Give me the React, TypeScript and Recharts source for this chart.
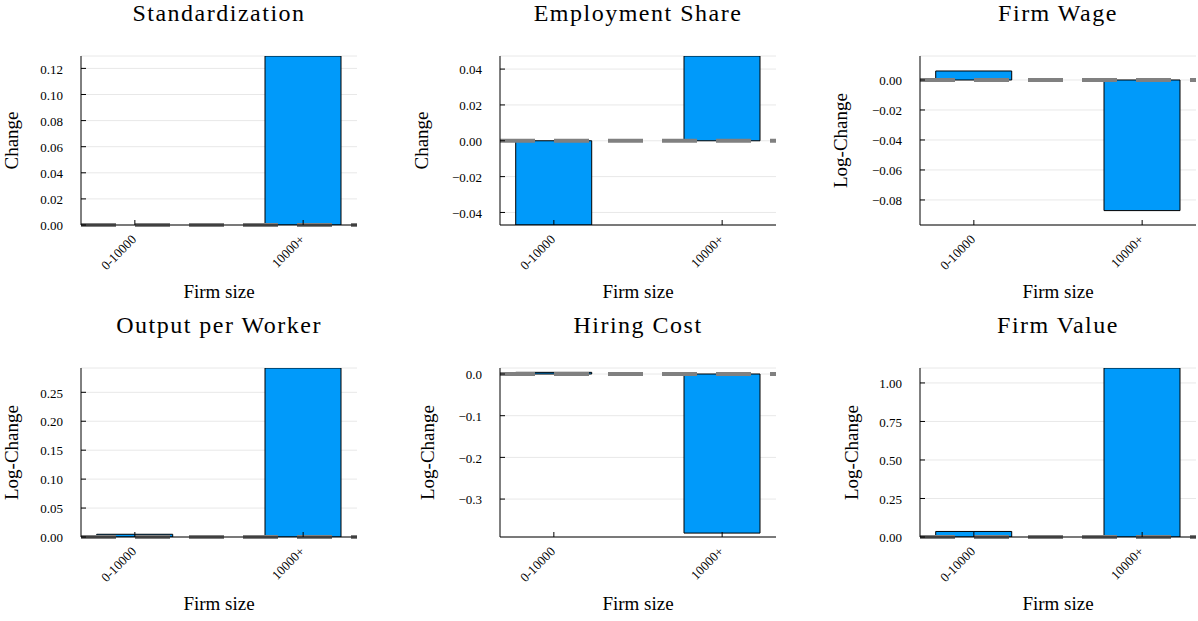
import React from "react";
import {
  BarChart,
  Bar,
  XAxis,
  YAxis,
  CartesianGrid,
  ReferenceLine,
} from "recharts";

// categories on the x axis and where they sit on the numeric scale
const CATEGORIES = ["0-10000", "10000+"];
const CATEGORY_POS = [0.5, 1.5];

// bar values per panel
const STANDARDIZATION = [0, 0.1295];
const EMPLOYMENT_SHARE = [-0.047, 0.0473];
const FIRM_WAGE = [0.006, -0.0871];
const OUTPUT_PER_WORKER = [0.0047, 0.292];
const HIRING_COST = [0.004, -0.3816];
const FIRM_VALUE = [0.036, 1.097];

// y ticks per panel
const TICKS_STANDARDIZATION = [0, 0.02, 0.04, 0.06, 0.08, 0.1, 0.12];
const TICKS_EMPLOYMENT_SHARE = [-0.04, -0.02, 0, 0.02, 0.04];
const TICKS_FIRM_WAGE = [-0.08, -0.06, -0.04, -0.02, 0];
const TICKS_OUTPUT_PER_WORKER = [0, 0.05, 0.1, 0.15, 0.2, 0.25];
const TICKS_HIRING_COST = [-0.3, -0.2, -0.1, 0];
const TICKS_FIRM_VALUE = [0, 0.25, 0.5, 0.75, 1];

const FONT = '"Liberation Serif", "Times New Roman", serif';
const BLUE = "#009AFA";

// grid layout (page pixels)
const COL_LEFT = [0, 400, 800];
const COL_WIDTH = [399, 399, 398];
const PLOT_LEFT = [81, 500, 920];
const PLOT_RIGHT = [357, 776, 1196];
const ROW_TOP = [0, 311];
const ROW_HEIGHT = [311, 310];
const PLOT_TOP = [56, 368];
const PLOT_BOTTOM = [225, 537];

type PanelDef = {
  title: string;
  ylabel: string;
  values: number[];
  ticks: number[];
  domain: [number, number];
  digits: number;
  row: number;
  col: number;
  labelOffset: number;
};

const PANELS: PanelDef[] = [
  { title: "Standardization", ylabel: "Change", values: STANDARDIZATION, ticks: TICKS_STANDARDIZATION, domain: [0, 0.1295], digits: 2, row: 0, col: 0, labelOffset: 63 },
  { title: "Employment Share", ylabel: "Change", values: EMPLOYMENT_SHARE, ticks: TICKS_EMPLOYMENT_SHARE, domain: [-0.047, 0.0473], digits: 2, row: 0, col: 1, labelOffset: 72.5 },
  { title: "Firm Wage", ylabel: "Log-Change", values: FIRM_WAGE, ticks: TICKS_FIRM_WAGE, domain: [-0.0967, 0.016], digits: 2, row: 0, col: 2, labelOffset: 73.5 },
  { title: "Output per Worker", ylabel: "Log-Change", values: OUTPUT_PER_WORKER, ticks: TICKS_OUTPUT_PER_WORKER, domain: [0, 0.292], digits: 2, row: 1, col: 0, labelOffset: 63 },
  { title: "Hiring Cost", ylabel: "Log-Change", values: HIRING_COST, ticks: TICKS_HIRING_COST, domain: [-0.391, 0.0144], digits: 1, row: 1, col: 1, labelOffset: 66 },
  { title: "Firm Value", ylabel: "Log-Change", values: FIRM_VALUE, ticks: TICKS_FIRM_VALUE, domain: [0, 1.097], digits: 2, row: 1, col: 2, labelOffset: 62.5 },
];

const fmt = (v: number, digits: number) => {
  const s = Math.abs(v) < 1e-12 ? (0).toFixed(digits) : v.toFixed(digits);
  return s.replace("-", "\u2212");
};

const XTick = (props: any) => {
  const { x, y, payload } = props;
  const idx = CATEGORY_POS.indexOf(payload.value);
  const ax = x - 1;
  const ay = y + 12;
  return (
    <g>
      <line x1={x} x2={x} y1={y} y2={y - 5} stroke="#000" strokeWidth={1} />
      <text
        x={ax}
        y={ay}
        dy="0.35em"
        textAnchor="end"
        transform={`rotate(-45, ${ax}, ${ay})`}
        fontSize={13}
        fontFamily={FONT}
        fill="#000"
      >
        {CATEGORIES[idx]}
      </text>
    </g>
  );
};

const makeYTick = (digits: number) => (props: any) => {
  const { x, y, payload } = props;
  return (
    <g>
      <line x1={x + 18} x2={x + 23} y1={y} y2={y} stroke="#000" strokeWidth={1} />
      <text
        x={x}
        y={y}
        dy="0.4em"
        textAnchor="end"
        fontSize={13}
        fontFamily={FONT}
        fill="#000"
      >
        {fmt(payload.value, digits)}
      </text>
    </g>
  );
};

const Panel = ({ p }: { p: PanelDef }) => {
  const { row, col } = p;
  const data = CATEGORIES.map((c, i) => ({
    x: CATEGORY_POS[i],
    name: c,
    value: p.values[i],
  }));
  const YTick = makeYTick(p.digits);
  return (
    <div style={{ position: "absolute", left: COL_LEFT[col], top: ROW_TOP[row] }}>
      <BarChart
        width={COL_WIDTH[col]}
        height={ROW_HEIGHT[row]}
        data={data}
        margin={{
          top: PLOT_TOP[row] - ROW_TOP[row],
          right: COL_LEFT[col] + COL_WIDTH[col] - PLOT_RIGHT[col],
          left: 0,
          bottom: 0,
        }}
      >
        <CartesianGrid vertical={false} stroke="#e8e8e8" strokeWidth={1} />
        <XAxis
          type="number"
          dataKey="x"
          domain={[0.18, 1.82]}
          ticks={CATEGORY_POS}
          interval={0}
          allowDataOverflow
          height={ROW_TOP[row] + ROW_HEIGHT[row] - PLOT_BOTTOM[row]}
          tickSize={0}
          tickMargin={0}
          tickLine={false}
          axisLine={{ stroke: "#000", strokeWidth: 1 }}
          tick={<XTick />}
        />
        <YAxis
          width={PLOT_LEFT[col] - COL_LEFT[col]}
          domain={p.domain}
          ticks={p.ticks}
          interval={0}
          allowDataOverflow
          tickSize={0}
          tickMargin={18}
          tickLine={false}
          axisLine={{ stroke: "#000", strokeWidth: 1 }}
          tick={<YTick />}
        />
        <Bar
          dataKey="value"
          fill={BLUE}
          stroke="#000"
          strokeWidth={1}
          barSize={76}
          isAnimationActive={false}
        />
        <ReferenceLine
          y={0}
          stroke="#808080"
          strokeWidth={4}
          strokeDasharray="35 19"
        />
      </BarChart>
    </div>
  );
};

export default function App() {
  return (
    <div
      style={{
        position: "absolute",
        left: 0,
        top: 0,
        width: 1198,
        height: 621,
        background: "#fff",
        overflow: "hidden",
      }}
    >
      {PANELS.map((p) => (
        <Panel key={p.title} p={p} />
      ))}
      <svg
        width={1198}
        height={621}
        style={{ position: "absolute", left: 0, top: 0, pointerEvents: "none" }}
      >
        {PANELS.map((p) => {
          const cx = (PLOT_LEFT[p.col] + PLOT_RIGHT[p.col]) / 2;
          const cy = (PLOT_TOP[p.row] + PLOT_BOTTOM[p.row]) / 2;
          const lx = PLOT_LEFT[p.col] - p.labelOffset;
          return (
            <g key={p.title} fontFamily={FONT} fill="#000">
              <text
                x={cx}
                y={PLOT_TOP[p.row] - 35}
                textAnchor="middle"
                fontSize={24}
                letterSpacing={1.5}
              >
                {p.title}
              </text>
              <text
                x={cx}
                y={PLOT_BOTTOM[p.row] + 73}
                textAnchor="middle"
                fontSize={19}
              >
                Firm size
              </text>
              <text
                x={lx}
                y={cy}
                textAnchor="middle"
                fontSize={19}
                transform={`rotate(-90, ${lx}, ${cy})`}
              >
                {p.ylabel}
              </text>
            </g>
          );
        })}
      </svg>
    </div>
  );
}
